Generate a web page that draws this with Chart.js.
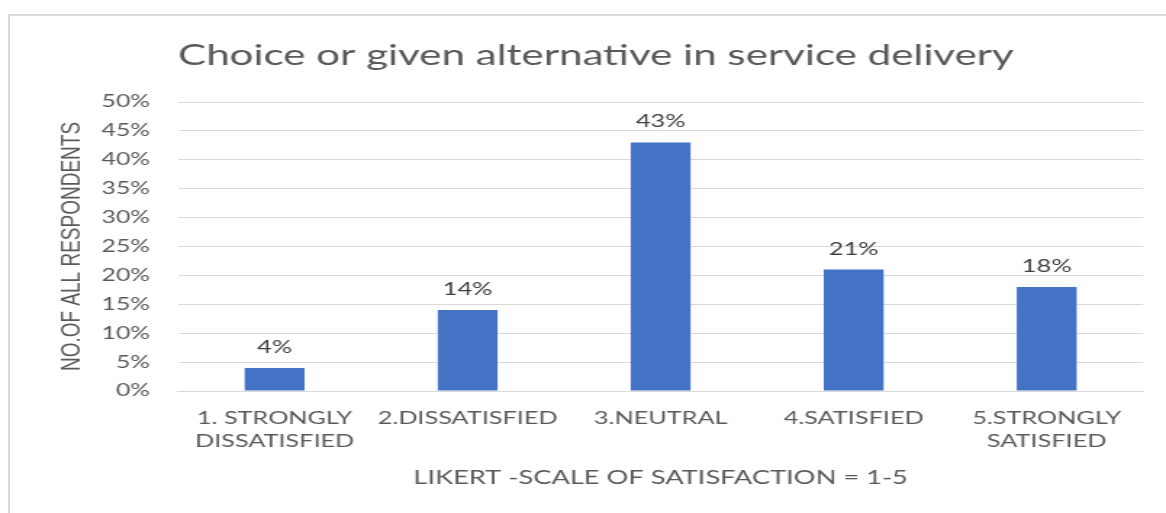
<!DOCTYPE html>
<html>
<head>
<meta charset="utf-8">
<script src="https://cdn.jsdelivr.net/npm/chart.js@4/dist/chart.umd.min.js"></script>
<style>
  html, body { margin: 0; padding: 0; background: #fff; overflow: hidden; }
  #wrap { position: relative; width: 1166px; height: 513px; overflow: hidden; }
  #frame { position: absolute; left: 8px; top: 14px; width: 1200px; height: 560px; border: 2px solid #d9d9d9; box-sizing: border-box; }
  #stretch { position: absolute; left: 0; top: 0; width: 804px; height: 513px; transform: scaleX(1.4502); transform-origin: 0 0; }
  canvas { display: block; }
</style>
</head>
<body>
<div id="wrap">
  <div id="frame"></div>
  <div id="stretch"><canvas id="c" width="804" height="513"></canvas></div>
</div>
<script>
const chartTitle = "Choice or given alternative in service delivery";
const categories = [["1. STRONGLY", "DISSATISFIED"], "2.DISSATISFIED", "3.NEUTRAL", "4.SATISFIED", ["5.STRONGLY", "SATISFIED"]];
const values = [4, 14, 43, 21, 18];
const yTicks = [0, 5, 10, 15, 20, 25, 30, 35, 40, 45, 50];
const yAxisTitle = "NO.OF ALL RESPONDENTS";
const xAxisTitle = "LIKERT -SCALE OF SATISFACTION = 1-5";

const FONT = "Lato, 'Open Sans', sans-serif";

const titlePlugin = {
  id: 'leftTitle',
  afterDraw(chart) {
    const ctx = chart.ctx;
    ctx.save();
    ctx.font = "29px " + FONT;
    ctx.fillStyle = "#595959";
    ctx.textAlign = "left";
    ctx.textBaseline = "alphabetic";
    ctx.fillText(chartTitle, chart.chartArea.left, 65);
    ctx.restore();
  }
};

const labelPlugin = {
  id: 'dataLabels',
  afterDatasetsDraw(chart) {
    const ctx = chart.ctx;
    const meta = chart.getDatasetMeta(0);
    ctx.save();
    ctx.font = "17.5px " + FONT;
    ctx.fillStyle = "#404040";
    ctx.textAlign = "center";
    ctx.textBaseline = "bottom";
    meta.data.forEach((bar, i) => {
      ctx.fillText(values[i] + "%", bar.x, bar.y - 12);
    });
    ctx.restore();
  }
};

new Chart(document.getElementById('c'), {
  type: 'bar',
  data: {
    labels: categories,
    datasets: [{
      data: values,
      backgroundColor: '#4472c4',
      borderWidth: 0,
      barPercentage: 0.62,
      categoryPercentage: 0.5
    }]
  },
  options: {
    responsive: false,
    animation: false,
    devicePixelRatio: 1,
    layout: { padding: { top: 102, right: 15.7, bottom: 0, left: 38.3 } },
    plugins: { legend: { display: false }, tooltip: { enabled: false }, title: { display: false } },
    scales: {
      x: {
        grid: { display: false, drawTicks: false },
        border: { display: true, color: '#d9d9d9', width: 1 },
        ticks: { color: '#595959', font: { family: FONT, size: 17.4, lineHeight: 1.3 }, padding: 16, maxRotation: 0, autoSkip: false },
        title: { display: true, text: xAxisTitle, color: '#595959', font: { family: FONT, size: 18.8 }, padding: { top: 10, bottom: 23.7 } },
        afterFit(scale) { scale.height = 122; }
      },
      y: {
        min: 0, max: 50,
        afterBuildTicks(scale) { scale.ticks = yTicks.map(v => ({ value: v })); },
        grid: { color: '#d9d9d9', drawTicks: false },
        border: { display: false },
        ticks: { color: '#595959', font: { family: FONT, size: 17 }, padding: 19.4, callback: v => v + '%' },
        title: { display: true, text: yAxisTitle, color: '#595959', font: { family: "'Liberation Sans', Arial, sans-serif", size: 19 }, padding: 0 },
        afterFit(scale) { scale.width = 84.5; }
      }
    }
  },
  plugins: [titlePlugin, labelPlugin]
});
</script>
</body>
</html>
